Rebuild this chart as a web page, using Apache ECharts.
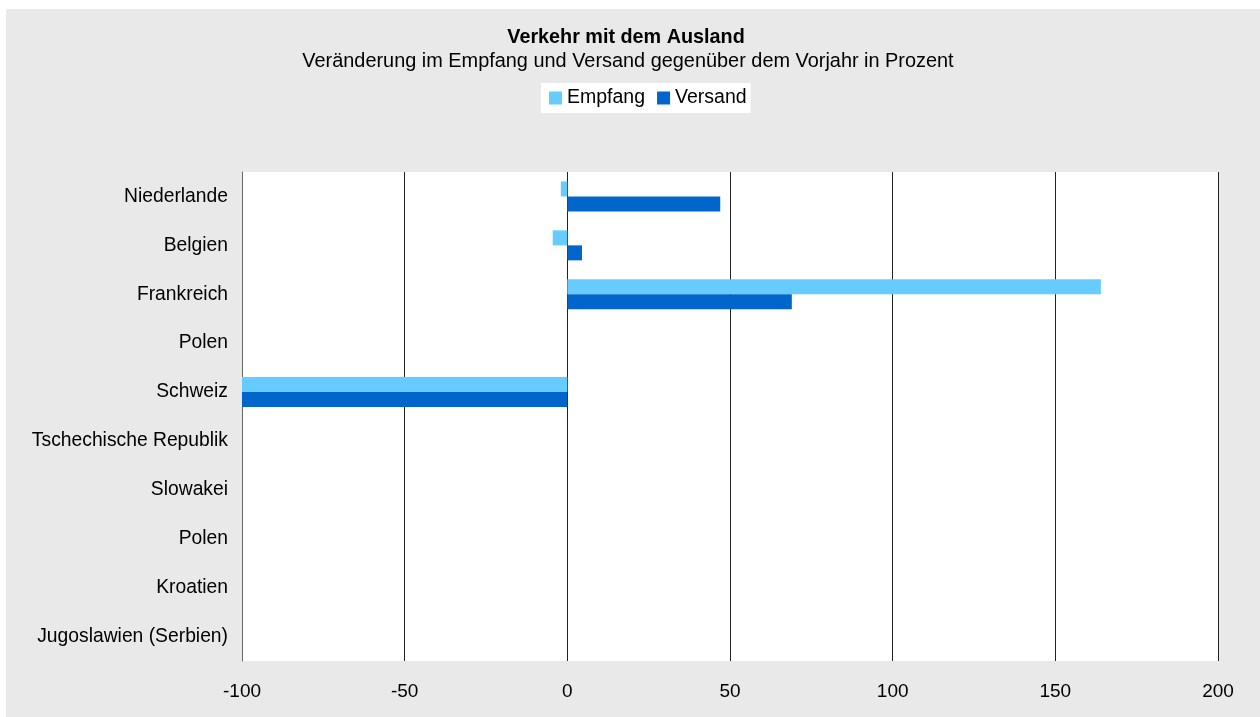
<!DOCTYPE html>
<html>
<head>
<meta charset="utf-8">
<script src="https://cdn.jsdelivr.net/npm/echarts@6/dist/echarts.min.js"></script>
<style>
html,body{margin:0;padding:0;background:#fff;}
#bg{position:absolute;left:6px;top:9px;width:1254px;height:708px;background:#e9e9e9;}
#chart{position:absolute;left:0;top:0;width:1260px;height:717px;}
</style>
</head>
<body>
<div id="bg"></div>
<div id="chart"></div>
<script>
const categories = ['Niederlande','Belgien','Frankreich','Polen','Schweiz','Tschechische Republik','Slowakei','Polen','Kroatien','Jugoslawien (Serbien)'];
const empfang = [-2, -4.5, 164, null, -100, null, null, null, null, null];
const versand = [47, 4.5, 69, null, -100, null, null, null, null, null];
const xTicks = {min: -100, max: 200, interval: 50};

const FONT = 'Liberation Sans, Arial, sans-serif';
const chart = echarts.init(document.getElementById('chart'));
chart.setOption({
  animation: false,
  title: [
    {text: 'Verkehr mit dem Ausland', left: 626, top: 28, textAlign: 'center', padding: 0,
     textStyle: {fontFamily: FONT, fontSize: 19.8, fontWeight: 'bold', color: '#000'}},
    {text: 'Veränderung im Empfang und Versand gegenüber dem Vorjahr in Prozent', left: 628, top: 52, textAlign: 'center', padding: 0,
     textStyle: {fontFamily: FONT, fontSize: 19.9, fontWeight: 'normal', color: '#000'}}
  ],
  legend: {
    left: 541, top: 83, itemWidth: 13, itemHeight: 13, itemGap: 12,
    backgroundColor: '#fff', padding: [5, 4, 5, 8],
    icon: 'rect',
    textStyle: {fontFamily: FONT, fontSize: 19.5, color: '#000'},
    data: ['Empfang', 'Versand']
  },
  grid: {left: 242, right: 42, top: 172, bottom: 56, show: true, backgroundColor: '#fff', borderWidth: 0, containLabel: false},
  xAxis: {
    type: 'value', min: xTicks.min, max: xTicks.max, interval: xTicks.interval,
    axisLine: {show: false}, axisTick: {show: false},
    axisLabel: {fontFamily: FONT, fontSize: 19, color: '#000', margin: 21},
    splitLine: {show: true, lineStyle: {color: '#222', width: 1}}
  },
  yAxis: {
    type: 'category', data: categories, inverse: true,
    axisLine: {show: true, onZero: false, lineStyle: {color: '#666', width: 1}},
    axisTick: {show: false},
    axisLabel: {fontFamily: FONT, fontSize: 19.3, color: '#000', margin: 14}
  },
  series: [
    {name: 'Empfang', type: 'bar', data: empfang, barWidth: 15, barGap: '0%', itemStyle: {color: '#66ccff'}},
    {name: 'Versand', type: 'bar', data: versand, barWidth: 15, barGap: '0%', itemStyle: {color: '#0066cc'}}
  ]
});
</script>
</body>
</html>
